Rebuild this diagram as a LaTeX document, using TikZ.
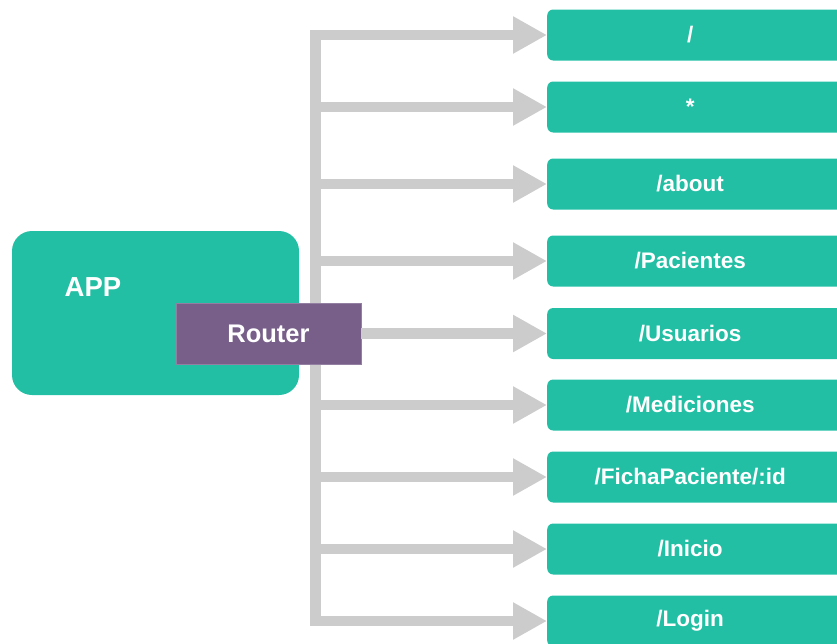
\documentclass[tikz,border=0pt]{standalone}
\usepackage{fontspec}
\setmainfont{Liberation Sans}
\usetikzlibrary{arrows.meta}
\definecolor{appteal}{HTML}{22BFA4}
\definecolor{routerpurple}{HTML}{775F89}
\definecolor{linkgray}{HTML}{CCCCCC}
% route label centred in the visible part of a box that runs past the page edge
\newcommand{\routetext}[1]{\makebox[286pt]{#1}\hspace*{20pt}}
\tikzset{
  appbox/.style={fill=appteal, rounded corners=20pt, minimum width=287pt,
    minimum height=164pt, inner sep=0pt},
  apptitle/.style={text=white, font=\bfseries\fontsize{27.5pt}{30pt}\selectfont, inner sep=0pt},
  routerbox/.style={fill=routerpurple, draw=routerpurple!80!white, line width=0.8pt,
    minimum width=185pt, minimum height=61pt, inner sep=0pt, text=white,
    font=\bfseries\fontsize{25.5pt}{28pt}\selectfont},
  routebox/.style={fill=appteal, rounded corners=6pt, anchor=west,
    minimum height=51pt, inner sep=0pt, text=white,
    font=\bfseries\fontsize{22.5pt}{25pt}\selectfont},
  conn/.style={draw=linkgray, line width=10.5pt,
    -{Triangle[length=34pt, width=35pt]}}
}
\begin{document}
\begin{tikzpicture}[x=1pt, y=-1pt]
  \useasboundingbox (0,0) rectangle (837,643);

  % application container
  \node[appbox] (app) at (155.5,313) {};
  \node[apptitle] (apptitle) at (93,287) {APP};

  % route boxes
  \node[routebox] (r1) at (547,35)  {\routetext{/}};
  \node[routebox] (r2) at (547,107) {\routetext{*}};
  \node[routebox] (r3) at (547,184) {\routetext{/about}};
  \node[routebox] (r4) at (547,261) {\routetext{/Pacientes}};
  \node[routebox] (r5) at (547,333.5) {\routetext{/Usuarios}};
  \node[routebox] (r6) at (547,405) {\routetext{/Mediciones}};
  \node[routebox] (r7) at (547,477) {\routetext{/FichaPaciente/:id}};
  \node[routebox] (r8) at (547,549) {\routetext{/Inicio}};
  \node[routebox] (r9) at (547,621) {\routetext{/Login}};

  % distribution trunk
  \coordinate (top) at (315.5,35);
  \coordinate (bot) at (315.5,621);
  \draw[conn] (bot) -- (top) -- (r1.west);
  \draw[conn] (top) -- (bot) -- (r9.west);
  \foreach \i in {2,3,4,6,7,8}
    \draw[conn] (top |- r\i.west) -- (r\i.west);

  % router on top of the trunk
  \node[routerbox] (router) at (268.5,333.5) {Router};
  \draw[conn] (router.east) -- (r5.west);
\end{tikzpicture}
\end{document}
